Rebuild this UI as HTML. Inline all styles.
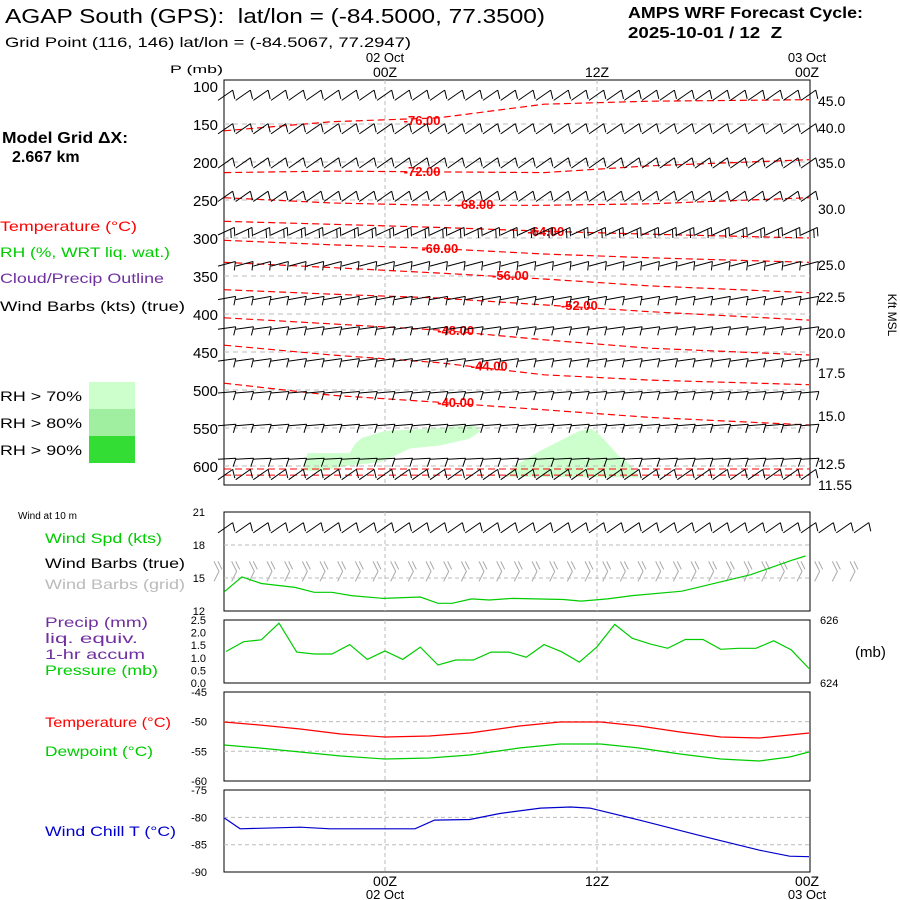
<!DOCTYPE html>
<html><head><meta charset="utf-8"><style>
body{margin:0;background:#fff;width:900px;height:900px;overflow:hidden}
svg{display:block}
text{font-family:"Liberation Sans",sans-serif;white-space:pre}
</style></head><body>
<svg id="c" width="900" height="900" xmlns="http://www.w3.org/2000/svg">
<text x="5" y="23" font-size="20" textLength="540" lengthAdjust="spacingAndGlyphs">AGAP South (GPS):  lat/lon = (-84.5000, 77.3500)</text>
<text x="5" y="47" font-size="14" textLength="406" lengthAdjust="spacingAndGlyphs">Grid Point (116, 146) lat/lon = (-84.5067, 77.2947)</text>
<text x="628" y="18" font-size="16" font-weight="bold" textLength="235" lengthAdjust="spacingAndGlyphs">AMPS WRF Forecast Cycle:</text>
<text x="628" y="38" font-size="16" font-weight="bold" textLength="154" lengthAdjust="spacingAndGlyphs">2025-10-01 / 12  Z</text>
<text x="170" y="73" font-size="11" textLength="53" lengthAdjust="spacingAndGlyphs">P (mb)</text>
<text x="2" y="143" font-size="16" font-weight="bold" textLength="126" lengthAdjust="spacingAndGlyphs">Model Grid ΔX:</text>
<text x="12" y="162" font-size="16" font-weight="bold">2.667 km</text>
<text x="0" y="231" font-size="14" fill="#f00" textLength="137" lengthAdjust="spacingAndGlyphs">Temperature (°C)</text>
<text x="0" y="257" font-size="14" fill="#0c0" textLength="170" lengthAdjust="spacingAndGlyphs">RH (%, WRT liq. wat.)</text>
<text x="0" y="283" font-size="14" fill="#7030a0" textLength="164" lengthAdjust="spacingAndGlyphs">Cloud/Precip Outline</text>
<text x="0" y="311" font-size="14" textLength="185" lengthAdjust="spacingAndGlyphs">Wind Barbs (kts) (true)</text>
<rect x="89" y="382" width="46" height="27" fill="#ccffcc"/>
<rect x="89" y="409" width="46" height="27" fill="#a0eea0"/>
<rect x="89" y="436" width="46" height="27" fill="#33dd33"/>
<text x="0" y="401" font-size="14" textLength="82" lengthAdjust="spacingAndGlyphs">RH &gt; 70%</text>
<text x="0" y="428" font-size="14" textLength="82" lengthAdjust="spacingAndGlyphs">RH &gt; 80%</text>
<text x="0" y="455" font-size="14" textLength="82" lengthAdjust="spacingAndGlyphs">RH &gt; 90%</text>
<text x="18" y="519" font-size="10">Wind at 10 m</text>
<text x="45" y="543" font-size="14" fill="#0c0" textLength="117" lengthAdjust="spacingAndGlyphs">Wind Spd (kts)</text>
<text x="45" y="568" font-size="14" textLength="140" lengthAdjust="spacingAndGlyphs">Wind Barbs (true)</text>
<text x="45" y="589" font-size="14" fill="#bbb" textLength="140" lengthAdjust="spacingAndGlyphs">Wind Barbs (grid)</text>
<text x="45" y="627" font-size="14" fill="#7030a0" textLength="103" lengthAdjust="spacingAndGlyphs">Precip (mm)</text>
<text x="45" y="643" font-size="14" fill="#7030a0" textLength="93" lengthAdjust="spacingAndGlyphs">liq. equiv.</text>
<text x="45" y="659" font-size="14" fill="#7030a0" textLength="100" lengthAdjust="spacingAndGlyphs">1-hr accum</text>
<text x="45" y="675" font-size="14" fill="#0c0" textLength="113" lengthAdjust="spacingAndGlyphs">Pressure (mb)</text>
<text x="45" y="727" font-size="14" fill="#f00" textLength="126" lengthAdjust="spacingAndGlyphs">Temperature (°C)</text>
<text x="45" y="756" font-size="14" fill="#0c0" textLength="108" lengthAdjust="spacingAndGlyphs">Dewpoint (°C)</text>
<text x="45" y="836" font-size="14" fill="#00c" textLength="131" lengthAdjust="spacingAndGlyphs">Wind Chill T (°C)</text>
<text x="888" y="315" font-size="12" transform="rotate(90 888 315)" text-anchor="middle">Kft MSL</text>
<text x="855" y="657" font-size="15">(mb)</text>
<g id="g"></g>
</svg>
<script>
// ---- data ----
const timeTicks=[0,12,24];
const topDateLabels=["02 Oct","","03 Oct"];
const topHourLabels=["00Z","12Z","00Z"];
const pLevels=[100,150,200,250,300,350,400,450,500,550,600];
const kftLabels=["45.0","40.0","35.0","30.0","25.0","22.5","20.0","17.5","15.0","12.5","11.55"];
const kftY=[101,128,163,209,265,297,333,373,416,464,485];
const barbRowP=[119,163,208,252,296,337,381,420,462,504,547,591,618];
const barbRowAngle=[-35,-35,-35,-35,-25,-15,-10,-8,-8,-5,-5,-3,-35];
const barbRowCount=[1,1,1,1,2,1,1,1,1,1,1,1,1];
const tempContourLevels=[-76,-72,-68,-64,-60,-56,-52,-48,-44,-40];
const contourHours=[-9.1,-3,3,9,15,24];
const contourP=[
 [159,147,142,124,120,118],
 [214,212,213,214,205,197],
 [247,254,257,257,255,247],
 [278,282,286,291,295,300],
 [303,309,314,321,326,332],
 [332,339,346,354,363,372],
 [368,374,379,388,397,408],
 [405,413,421,434,445,454],
 [441,454,464,480,487,493],
 [491,507,516,526,536,546]];
const labelHour=[2.1,2.1,5.1,9.1,3.1,7.1,11,4,5.9,4];
const labelP=[145,212,255,291,313,349,388,421,468,516];
const windHours=[-9.1,-8.1,-7,-5.1,-4,-3,-1.9,-0.1,2,3,3.8,4.9,5.9,7.2,10.1,11.1,12.6,14,16.8,18.1,20.7,23,23.8];
const windSpd=[13.75,15.1,14.5,14.15,13.7,13.7,13.4,13.15,13.27,12.7,12.7,13.1,13.0,13.15,13.05,12.9,13.1,13.4,13.8,14.3,15.3,16.6,17.0];
const precipHours=[-9,-8,-7,-6,-5,-4,-3,-2,-1,0,1,2,3,4,5,6,7,8,9,10,11,12,13,14,15,16,17,18,19,20,21,22,23,24];
const pressureMb=[625.0,625.31,625.37,625.9,624.98,624.92,624.92,625.22,624.75,625.02,624.75,625.14,624.57,624.73,624.73,624.98,624.98,624.82,625.22,624.99,624.66,625.15,625.86,625.42,625.24,625.1,625.38,625.38,625.07,625.1,625.1,625.34,625.05,624.46];
const tdHours=[-9.1,-7.1,-4.8,-2.5,0,2.5,4.8,7.6,9.9,12.2,14.4,16.7,19,21.2,22.9,24];
const tempC=[-50.06,-50.56,-51.24,-52.08,-52.59,-52.42,-51.91,-50.73,-50.06,-50.06,-50.73,-51.75,-52.59,-52.76,-52.25,-51.91];
const dewC=[-53.94,-54.44,-55.12,-55.80,-56.30,-56.13,-55.62,-54.44,-53.77,-53.77,-54.44,-55.46,-56.30,-56.64,-55.96,-55.12];
const chillHours=[-9.1,-8.2,-4.8,-3.1,1.7,2.8,4.8,6.5,8.8,10.5,11.6,14.4,17.8,21.2,22.9,24];
const chillC=[-80.1,-82.1,-81.8,-82.1,-82.1,-80.5,-80.4,-79.3,-78.3,-78.1,-78.3,-80.5,-83.3,-86.0,-87.1,-87.2];
const rhBlob1H=[-4.6,-4.4,-2,-1.7,-1.3,0,3.1,4.3,5.1,5.4,4.8,3.1,1.4,0.6,-0.3,-2,-3.7];
const rhBlob1P=[606,583,583,571,563,554,550,547,547,554,564,573,577,586,595,599,607];
const rhBlob2H=[6.8,7.4,8.8,9.9,11,11.7,12.2,12.7,13.2,13.9,14.4];
const rhBlob2P=[614,599,580,567,554,551,560,573,586,599,615];

// ---- axes ----
const X0=224,X1=810;
const x=h=>385+h*17.667;
const yP=p=>86+(p-100)*0.76;
const yW=v=>611-(v-12)*11;
const yPr=v=>683-(v-624)*31.5;
const yT=v=>692+(-45-v)*5.93;
const yC=v=>790+(-75-v)*5.47;
const g=document.getElementById('g');
const NS='http://www.w3.org/2000/svg';
function mk(tag,at,parent){const e=document.createElementNS(NS,tag);for(const k in at)e.setAttribute(k,at[k]);(parent||g).appendChild(e);return e;}
function txt(s,at){const e=mk('text',at);e.textContent=s;return e;}
function path(hs,vs,fx,fy){return hs.map((h,i)=>(i?'L':'M')+fx(h).toFixed(1)+' '+fy(vs[i]).toFixed(1)).join(' ');}

const panels=[[80,485],[512,611],[620,683],[692,781],[790,872]];
panels.forEach((p,i)=>{
 const r=mk('rect',{x:X0,y:p[0],width:X1-X0,height:p[1]-p[0],fill:'none',stroke:'#000','stroke-width':1});
 
 timeTicks.slice(0,2).forEach(h=>{const l=mk('line',{x1:x(h),x2:x(h),y1:p[0],y2:p[1],stroke:'#bbb','stroke-dasharray':'4,3'});
  });
});
[[rhBlob1H,rhBlob1P],[rhBlob2H,rhBlob2P]].forEach((b,i)=>{
 const e=mk('path',{d:path(b[0],b[1],x,yP)+'Z',fill:'#ccffcc'});
 
});
pLevels.forEach((p,i)=>{
 if(i>0){const l=mk('line',{x1:X0,x2:X1,y1:yP(p),y2:yP(p),stroke:'#bbb','stroke-dasharray':'5,4'});
 }
 const t=txt(String(p),{x:218,y:yP(p)+6,'font-size':15,'text-anchor':'end'});
 
});
kftLabels.forEach((s,i)=>{const t=txt(s,{x:818,y:kftY[i]+5,'font-size':14});
 });
timeTicks.forEach((h,i)=>{
 const cx=x(h)-(i==2?2:0);
 if(topDateLabels[i]){const t=txt(topDateLabels[i],{x:cx,y:62,'font-size':13,'text-anchor':'middle'});
  }
 const t2=txt(topHourLabels[i],{x:cx,y:77,'font-size':14,'text-anchor':'middle'});
 
 const t3=txt(topHourLabels[i],{x:cx,y:886,'font-size':14,'text-anchor':'middle'});
 
 const t4=txt(["02 Oct","","03 Oct"][i],{x:cx,y:899,'font-size':13,'text-anchor':'middle'});
 
});
tempContourLevels.forEach((lv,i)=>{
 const e=mk('path',{d:path(contourHours,contourP[i],x,yP),fill:'none',stroke:'#f00','stroke-width':1.2,'stroke-dasharray':'7,4'});
 
 const t=txt(lv.toFixed(2),{x:x(labelHour[i]),y:yP(labelP[i])+5,'font-size':13,'font-weight':'bold',fill:'#f00','text-anchor':'middle'});
 
});
[604,612].forEach(p=>{const e=mk('line',{x1:X0,x2:X1,y1:yP(p),y2:yP(p),stroke:'#f00','stroke-dasharray':'7,4'});
 });
function barb(cx,cy,ang,n,col,parent){
 const a=ang*Math.PI/180,L=18;
 const ex=cx+L*Math.cos(a),ey=cy+L*Math.sin(a);
 let d='M'+cx.toFixed(1)+' '+cy.toFixed(1)+'L'+ex.toFixed(1)+' '+ey.toFixed(1);
 for(let k=0;k<n;k++){const bx=cx+(L-k*4)*Math.cos(a),by=cy+(L-k*4)*Math.sin(a);
  const ba=a+Math.PI*0.62;d+='M'+bx.toFixed(1)+' '+by.toFixed(1)+'L'+(bx+9*Math.cos(ba)).toFixed(1)+' '+(by+9*Math.sin(ba)).toFixed(1);}
 return mk('path',{d:d,stroke:col,fill:'none','stroke-width':1},parent);
}
barbRowP.forEach((p,r)=>{
 for(let h=-9;h<=24;h++){const e=barb(x(h)-8,yP(p),barbRowAngle[r],barbRowCount[r],'#000');
  }
});
for(let h=-9;h<=27;h++){
 const e=barb(x(h)-8,yW(19.1),-35,1,'#000');
 
 const gx=x(h)-12,gy=yW(15.6);
 const e2=mk('path',{d:`M${gx} ${gy-10}L${gx+5} ${gy}L${gx} ${gy+10}M${gx+4} ${gy-10}L${gx+8} ${gy-2}`,stroke:'#aaa',fill:'none'});
 
}
[18,15].forEach(v=>{const l=mk('line',{x1:X0,x2:X1,y1:yW(v),y2:yW(v),stroke:'#bbb','stroke-dasharray':'4,3'});
 });
[21,18,15,12].forEach(v=>{const t=txt(String(v),{x:205,y:yW(v)+4,'font-size':11,'text-anchor':'end'});
 });
let e=mk('path',{d:path(windHours,windSpd,x,yW),fill:'none',stroke:'#0c0','stroke-width':1.2});

["2.5","2.0","1.5","1.0","0.5","0.0"].forEach((s,i)=>{const t=txt(s,{x:206,y:620+i*12.6+4,'font-size':11,'text-anchor':'end'});
 });
let t=txt('626',{x:820,y:624,'font-size':11});
t=txt('624',{x:820,y:687,'font-size':11});
e=mk('path',{d:path(precipHours,pressureMb,x,yPr),fill:'none',stroke:'#0c0','stroke-width':1.2});

[-50,-55].forEach(v=>{const l=mk('line',{x1:X0,x2:X1,y1:yT(v),y2:yT(v),stroke:'#bbb','stroke-dasharray':'4,3'});
 });
[-45,-50,-55,-60].forEach(v=>{const t=txt(String(v),{x:207,y:yT(v)+4,'font-size':11,'text-anchor':'end'});
 });
e=mk('path',{d:path(tdHours,tempC,x,yT),fill:'none',stroke:'#f00','stroke-width':1.2});

e=mk('path',{d:path(tdHours,dewC,x,yT),fill:'none',stroke:'#0c0','stroke-width':1.2});

[-80,-85].forEach(v=>{const l=mk('line',{x1:X0,x2:X1,y1:yC(v),y2:yC(v),stroke:'#bbb','stroke-dasharray':'4,3'});
 });
[-75,-80,-85,-90].forEach(v=>{const t=txt(String(v),{x:207,y:yC(v)+4,'font-size':11,'text-anchor':'end'});
 });
e=mk('path',{d:path(chillHours,chillC,x,yC),fill:'none',stroke:'#00c','stroke-width':1.2});

</script>
</body></html>
